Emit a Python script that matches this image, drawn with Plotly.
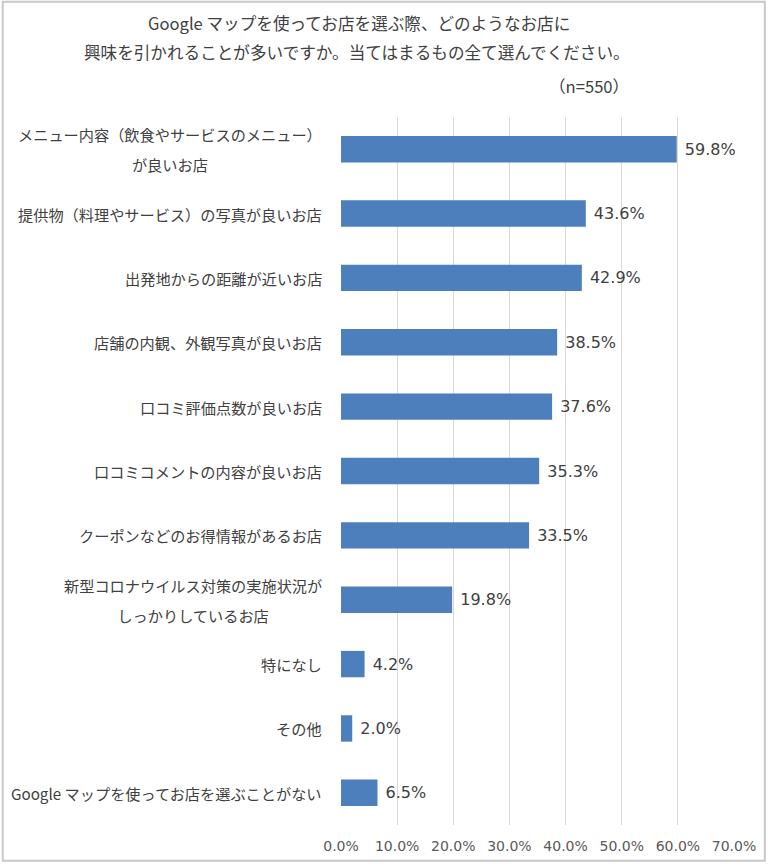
import plotly.graph_objects as go

categories = [
    "メニュー内容（飲食やサービスのメニュー）<br>が良いお店",
    "提供物（料理やサービス）の写真が良いお店",
    "出発地からの距離が近いお店",
    "店舗の内観、外観写真が良いお店",
    "口コミ評価点数が良いお店",
    "口コミコメントの内容が良いお店",
    "クーポンなどのお得情報があるお店",
    "新型コロナウイルス対策の実施状況が<br>しっかりしているお店",
    "特になし",
    "その他",
    "Google マップを使ってお店を選ぶことがない",
]
values = [0.598, 0.436, 0.429, 0.385, 0.376, 0.353, 0.335, 0.198, 0.042, 0.020, 0.065]
title_lines = [
    "Google マップを使ってお店を選ぶ際、どのようなお店に",
    "興味を引かれることが多いですか。当てはまるもの全て選んでください。",
]
sample_note = "（n=550）"

W, H = 768, 866
ML, MR, MT, MB = 341, 32, 117, 37
PW, PH = W - ML - MR, H - MT - MB


def px_x(x):
    return (x - ML) / PW


def px_y(y):
    return 1 + (MT - y) / PH


CJK = "Noto Sans CJK JP"
TXT = "#404040"

fig = go.Figure(
    go.Bar(
        y=categories,
        x=values,
        orientation="h",
        marker=dict(color="#4E7FBD", line=dict(width=0)),
        texttemplate="\u00a0%{x:.1%}",
        textposition="outside",
        textfont=dict(family="DejaVu Sans", size=16, color=TXT),
        cliponaxis=False,
        hoverinfo="skip",
    )
)

annotations = []
for cat in categories:
    text = "<br>".join(
        f"<span style='font-size:15.2px'>{part}</span>" for part in cat.split("<br>")
    )
    annotations.append(
        dict(
            x=px_x(324), xref="paper", y=cat, yref="y",
            text=text, showarrow=False, xanchor="right", yanchor="middle",
            align="center", font=dict(family=CJK, size=23, color=TXT),
        )
    )

annotations.append(dict(x=px_x(359), y=px_y(22), xref="paper", yref="paper",
                        text=title_lines[0], showarrow=False, xanchor="center",
                        yanchor="middle", font=dict(family=CJK, size=16.6, color=TXT)))
annotations.append(dict(x=px_x(357), y=px_y(52), xref="paper", yref="paper",
                        text=title_lines[1], showarrow=False, xanchor="center",
                        yanchor="middle", font=dict(family=CJK, size=16.6, color=TXT)))
annotations.append(dict(x=px_x(590), y=px_y(86), xref="paper", yref="paper",
                        text=sample_note, showarrow=False, xanchor="center",
                        yanchor="middle", font=dict(family=CJK, size=16.6, color=TXT)))

fig.update_layout(
    width=W, height=H,
    margin=dict(l=ML, r=MR, t=MT, b=MB),
    paper_bgcolor="white", plot_bgcolor="white",
    showlegend=False,
    bargap=0.59,
    annotations=annotations,
    shapes=[dict(type="rect", xref="paper", yref="paper",
                 x0=px_x(1), x1=px_x(W - 1), y0=px_y(H - 1), y1=px_y(1),
                 line=dict(color="#c8c8c8", width=2), fillcolor="rgba(0,0,0,0)",
                 layer="below")],
    xaxis=dict(
        range=[0, 0.7], dtick=0.1, tick0=0, tickformat=".1%",
        showgrid=True, gridcolor="#d9d9d9", gridwidth=1,
        zeroline=False, showline=False,
        ticks="outside", ticklen=8, tickcolor="rgba(0,0,0,0)",
        tickfont=dict(family="DejaVu Sans", size=14, color="#595959"),
        fixedrange=True,
    ),
    yaxis=dict(
        autorange="reversed", showticklabels=False, showgrid=False,
        zeroline=False, showline=False, fixedrange=True,
    ),
)

fig.write_html(
    "out.html",
    config={"displayModeBar": False},
    post_script="document.body.style.margin='0';document.body.style.overflow='hidden';",
)
